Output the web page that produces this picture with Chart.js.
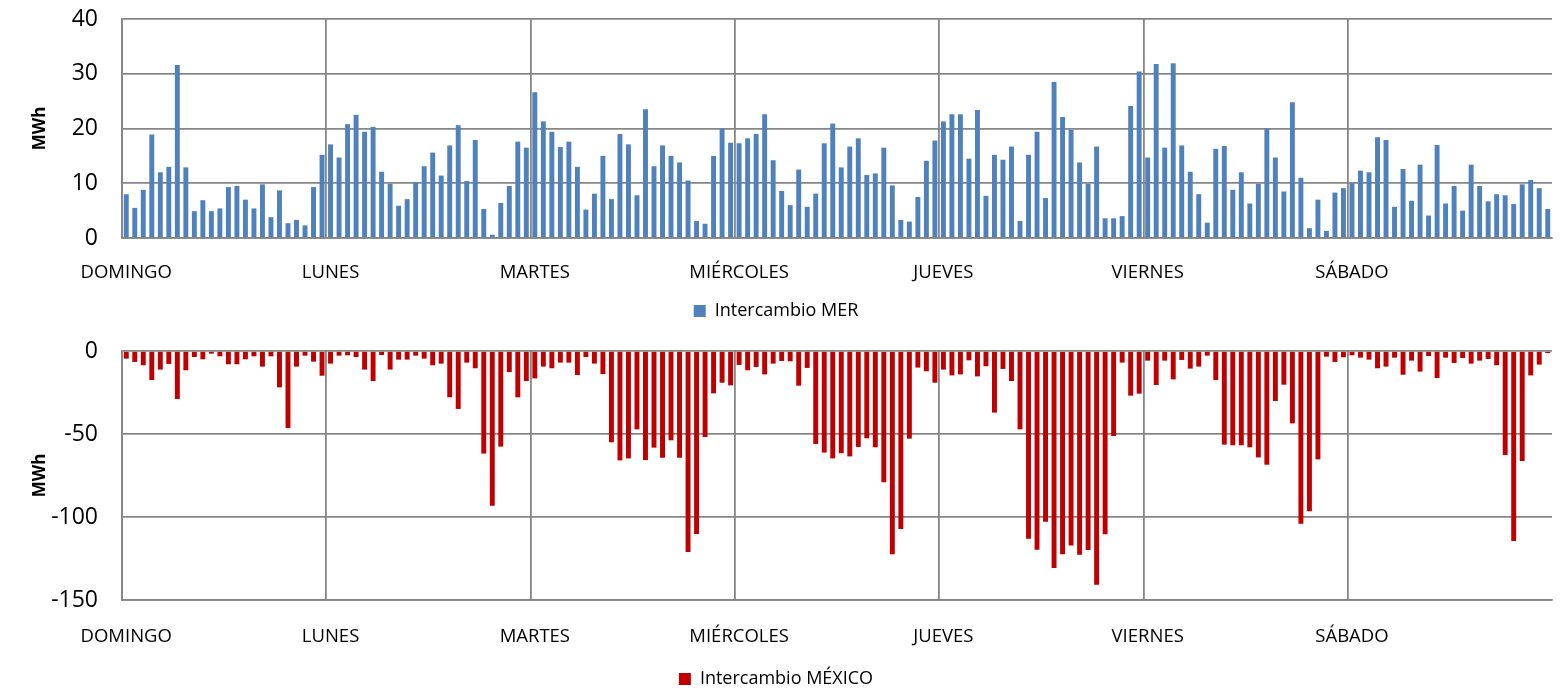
<!DOCTYPE html>
<html>
<head>
<meta charset="utf-8">
<script src="https://cdn.jsdelivr.net/npm/chart.js@4.4.1/dist/chart.umd.min.js"></script>
<style>
body { margin: 0; background: #fff; overflow: hidden; }
canvas { position: absolute; left: 0; }
#mer { top: 0; }
#mex { top: 330px; }
</style>
</head>
<body>
<canvas id="mer" width="1565" height="330"></canvas>
<canvas id="mex" width="1565" height="368"></canvas>
<script>
// day names shown once per 24 hours
var days = ["DOMINGO", "LUNES", "MARTES", "MIÉRCOLES", "JUEVES", "VIERNES", "SÁBADO"];

// hourly values, MWh
var merValues = [
    8.0, 5.5, 8.8, 18.9, 12.0, 13.0, 31.6, 12.9, 4.9, 6.9, 4.9, 5.4, 9.3, 9.5, 7.0, 5.4, 9.8, 3.8, 8.7, 2.7, 3.3, 2.3, 9.3, 15.2,
    17.1, 14.7, 20.8, 22.5, 19.4, 20.3, 12.1, 9.9, 5.9, 7.1, 10.2, 13.1, 15.6, 11.4, 16.9, 20.6, 10.4, 17.9, 5.3, 0.6, 6.4, 9.5, 17.6, 16.5,
    26.6, 21.3, 19.4, 16.6, 17.6, 13.0, 5.2, 8.1, 15.0, 7.1, 19.0, 17.1, 7.8, 23.5, 13.1, 16.9, 15.0, 13.8, 10.5, 3.1, 2.6, 15.0, 20.0, 17.4,
    17.3, 18.2, 19.0, 22.6, 14.2, 8.6, 6.0, 12.5, 5.7, 8.1, 17.3, 20.9, 12.9, 16.7, 18.2, 11.5, 11.8, 16.5, 9.6, 3.3, 3.0, 7.5, 14.1, 17.8,
    21.3, 22.6, 22.6, 14.5, 23.4, 7.7, 15.2, 14.3, 16.7, 3.1, 15.2, 19.4, 7.3, 28.5, 22.1, 19.8, 13.8, 9.9, 16.7, 3.6, 3.6, 4.0, 24.1, 30.4,
    14.7, 31.8, 16.5, 31.9, 16.9, 12.1, 8.0, 2.8, 16.3, 16.8, 8.8, 12.0, 6.3, 9.9, 20.0, 14.7, 8.5, 24.8, 11.0, 1.8, 7.0, 1.3, 8.3, 9.1,
    10.0, 12.3, 12.0, 18.4, 17.9, 5.7, 12.6, 6.8, 13.4, 4.1, 17.0, 6.3, 9.5, 5.0, 13.4, 9.5, 6.7, 8.0, 7.8, 6.2, 9.8, 10.6, 9.1, 5.3
];

var mexValues = [
    -4.6, -6.6, -8.6, -17.5, -11.2, -7.8, -28.9, -11.6, -3.6, -5.0, -1.6, -3.2, -8.0, -8.0, -5.0, -3.2, -9.4, -3.2, -21.9, -46.4, -9.4, -2.8, -6.4, -14.9,
    -7.6, -2.8, -2.6, -3.6, -11.2, -18.1, -2.4, -11.2, -5.2, -5.2, -2.8, -4.6, -8.6, -7.6, -27.9, -34.9, -7.0, -10.4, -61.8, -93.2, -57.6, -12.7, -27.9, -18.1,
    -16.5, -9.4, -10.4, -7.0, -7.0, -14.5, -3.6, -7.6, -13.9, -55.0, -65.9, -64.7, -47.2, -65.7, -58.2, -64.3, -53.8, -64.3, -121.1, -110.2, -51.8, -25.5, -19.1, -20.7,
    -8.4, -11.6, -9.6, -14.1, -7.6, -6.0, -6.2, -20.9, -10.2, -56.0, -61.2, -64.7, -61.6, -63.5, -57.8, -52.6, -58.0, -79.1, -122.5, -107.2, -52.8, -10.0, -12.2, -19.1,
    -11.2, -14.7, -14.1, -5.6, -15.3, -9.2, -37.1, -10.8, -18.1, -47.2, -113.1, -119.7, -102.8, -130.7, -122.5, -117.1, -122.7, -119.9, -140.8, -110.4, -51.2, -7.0, -26.9, -25.7,
    -5.8, -20.5, -5.8, -17.1, -5.4, -10.6, -9.4, -2.8, -17.5, -56.4, -56.8, -56.8, -58.0, -64.1, -68.5, -30.1, -20.3, -43.6, -104.0, -96.6, -65.3, -3.4, -6.6, -3.8,
    -2.6, -4.0, -5.2, -10.4, -9.4, -4.0, -14.3, -5.8, -12.4, -3.0, -16.3, -4.0, -7.2, -4.2, -7.6, -5.8, -4.8, -8.6, -62.7, -114.5, -66.3, -14.7, -8.2, -1.2
];

var merRange = [0, 40, 10];
var mexRange = [-150, 0, 50];

// one label per hour, the day name on the first hour
var hours = [];
for (var d = 0; d < days.length; d++) {
    for (var h = 0; h < 24; h++) {
        hours.push(h === 0 ? days[d] : "");
    }
}

var gridGray = "#868686";

function makeChart(id, name, values, color, range, pad, xHeight, xPad) {
    return new Chart(document.getElementById(id), {
        type: "bar",
        data: {
            labels: hours,
            datasets: [{
                label: name,
                data: values,
                backgroundColor: color,
                borderWidth: 0,
                barPercentage: 0.58,
                categoryPercentage: 1.0
            }]
        },
        options: {
            responsive: false,
            animation: false,
            layout: { padding: pad },
            plugins: {
                tooltip: { enabled: false },
                legend: {
                    position: "bottom",
                    labels: {
                        boxWidth: 12,
                        boxHeight: 12,
                        padding: 4,
                        color: "#000",
                        font: { family: "Open Sans", size: 18 }
                    }
                }
            },
            scales: {
                x: {
                    // fixed height, no extra side padding from the first/last label
                    afterFit: function (scale) {
                        scale.height = xHeight;
                        scale.paddingLeft = 0;
                        scale.paddingRight = 0;
                    },
                    grid: {
                        offset: true,
                        drawTicks: false,
                        lineWidth: 1.8,
                        color: function (c) { return c.index % 24 === 0 ? gridGray : "transparent"; }
                    },
                    border: { color: gridGray, width: 1.8 },
                    ticks: {
                        autoSkip: false,
                        maxRotation: 0,
                        minRotation: 0,
                        padding: xPad,
                        color: "#000",
                        font: { family: "Open Sans", size: 18.5 }
                    }
                },
                y: {
                    min: range[0],
                    max: range[1],
                    afterFit: function (scale) {
                        scale.width = 122;
                        scale.paddingTop = 0;
                        scale.paddingBottom = 0;
                    },
                    grid: { drawTicks: false, color: gridGray, lineWidth: 1.8 },
                    border: { color: gridGray, width: 1.8 },
                    title: {
                        display: true,
                        text: "MWh",
                        color: "#000",
                        padding: { top: 30, bottom: 0 },
                        font: { family: "Open Sans", size: 17, weight: "bold" }
                    },
                    ticks: {
                        stepSize: range[2],
                        padding: 24,
                        color: "#000",
                        font: { family: "Open Sans", size: 23 }
                    }
                }
            }
        }
    });
}

makeChart("mer", "Intercambio MER", merValues, "#4f81bd", merRange, { top: 19, right: 13, bottom: 0, left: 0 }, 60, 24);
makeChart("mex", "Intercambio MÉXICO", mexValues, "#c00000", mexRange, { top: 21, right: 13, bottom: 0, left: 0 }, 66, 26);
</script>
</body>
</html>
